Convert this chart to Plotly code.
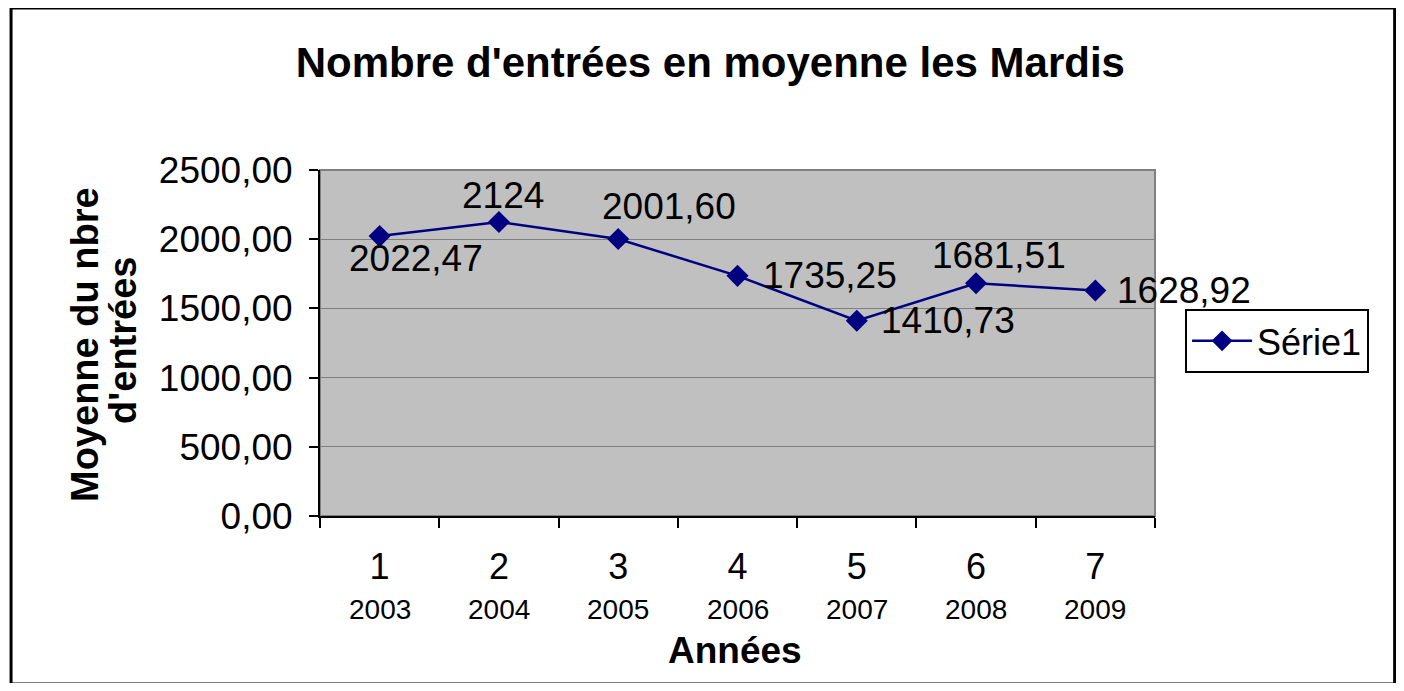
import plotly.graph_objects as go

CATEGORIES = ["1", "2", "3", "4", "5", "6", "7"]
YEARS = ["2003", "2004", "2005", "2006", "2007", "2008", "2009"]
VALUES = [2022.47, 2124, 2001.60, 1735.25, 1410.73, 1681.51, 1628.92]
SERIES_NAME = "Série1"

# label offsets in px (relative to each point)
LABEL_SHIFTS = [(36, -22), (4, 27), (51, 32), (92, 0), (91, 0), (23, 28), (89, 0)]

FONT = "Liberation Sans, Arial, sans-serif"
NAVY = "#000080"


def fmt(v):
    if float(v).is_integer():
        return str(int(v))
    return f"{v:.2f}".replace(".", ",")


fig = go.Figure()
fig.add_trace(
    go.Scatter(
        x=CATEGORIES,
        y=VALUES,
        mode="lines+markers",
        name=SERIES_NAME,
        line={"color": NAVY, "width": 2.5},
        marker={"symbol": "diamond", "size": 17, "color": NAVY},
        cliponaxis=False,
    )
)

annotations = []
# category axis: annotations take the category index
for i, (val, (dx, dy)) in enumerate(zip(VALUES, LABEL_SHIFTS)):
    annotations.append(
        dict(x=i, y=val, xref="x", yref="y", text=fmt(val), showarrow=False,
             xshift=dx, yshift=dy, font={"size": 37, "color": "#000000"})
    )
for i, year in enumerate(YEARS):
    annotations.append(
        dict(x=i, y=0, xref="x", yref="paper", text=year, showarrow=False,
             yanchor="middle", yshift=-93, font={"size": 28, "color": "#000000"})
    )
annotations += [
    dict(x=0.5, y=0, xref="paper", yref="paper", text="<b>Années</b>", showarrow=False,
         yanchor="middle", xshift=-3, yshift=-134, font={"size": 37, "color": "#000000"}),
    dict(x=0, y=0.5, xref="paper", yref="paper", text="<b>Moyenne du nbre</b>", showarrow=False,
         textangle=-90, xanchor="center", xshift=-235, yshift=-2, font={"size": 38, "color": "#000000"}),
    dict(x=0, y=0.5, xref="paper", yref="paper", text="<b>d'entrées</b>", showarrow=False,
         textangle=-90, xanchor="center", xshift=-197, yshift=2, font={"size": 38, "color": "#000000"}),
]

fig.update_layout(
    width=1388,
    height=675,
    autosize=False,
    paper_bgcolor="#ffffff",
    plot_bgcolor="#c0c0c0",
    font={"family": FONT, "color": "#000000"},
    margin={"l": 312, "r": 241, "t": 162, "b": 167},
    title={
        "text": "<b>Nombre d'entrées en moyenne les Mardis</b>",
        "x": 0.506,
        "xanchor": "center",
        "y": 0.92,
        "yanchor": "middle",
        "font": {"size": 42, "color": "#000000"},
    },
    showlegend=True,
    legend={
        "x": 1.036,
        "y": 0.506,
        "xanchor": "left",
        "yanchor": "middle",
        "bgcolor": "#ffffff",
        "bordercolor": "#000000",
        "borderwidth": 2,
        "font": {"size": 36},
        "itemwidth": 60,
    },
    xaxis={
        "type": "category",
        "categoryorder": "array",
        "categoryarray": CATEGORIES,
        "range": [-0.5, 6.5],
        "showgrid": False,
        "showline": True,
        "linecolor": "#000000",
        "linewidth": 2,
        "ticks": "outside",
        "tickson": "boundaries",
        "ticklen": 10,
        "tickwidth": 2,
        "tickcolor": "#000000",
        "tickfont": {"size": 36},
        "ticklabelstandoff": 18,
        "fixedrange": True,
    },
    yaxis={
        "range": [0, 2500],
        "dtick": 500,
        "tickformat": ".2f",
        "showgrid": True,
        "gridcolor": "#808080",
        "gridwidth": 1,
        "zeroline": False,
        "showline": True,
        "linecolor": "#000000",
        "linewidth": 2,
        "ticks": "outside",
        "ticklen": 9,
        "tickwidth": 2,
        "tickcolor": "#000000",
        "tickfont": {"size": 37},
        "ticklabelstandoff": 9,
        "fixedrange": True,
    },
    separators=", ",
    annotations=annotations,
    shapes=[
        dict(type="rect", xref="paper", yref="paper", x0=0, x1=1, y0=0, y1=1,
             line={"color": "#808080", "width": 2}, layer="below"),
        dict(type="rect", xref="paper", yref="paper", x0=-0.370, x1=1.287, y0=-0.4855, y1=1.468,
             line={"color": "#000000", "width": 3}, layer="below"),
    ],
)

fig.write_html("out.html")
